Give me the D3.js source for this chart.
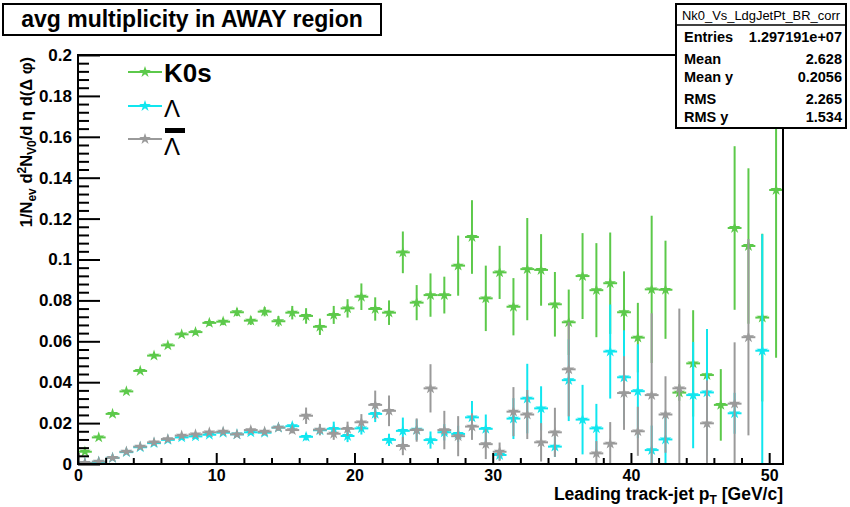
<!DOCTYPE html>
<html><head><meta charset="utf-8">
<script src="https://cdn.jsdelivr.net/npm/d3@7"></script>
<style>body{margin:0;background:#fff}svg{display:block}text{font-family:"Liberation Sans",Arial,Helvetica,sans-serif}</style>
</head><body>
<svg id="c" width="850" height="507"></svg>
<script>
// ---- data ----
const ptBins = [0.5,1.5,2.5,3.5,4.5,5.5,6.5,7.5,8.5,9.5,10.5,11.5,12.5,13.5,14.5,15.5,16.5,17.5,18.5,19.5,20.5,21.5,22.5,23.5,24.5,25.5,26.5,27.5,28.5,29.5,30.5,31.5,32.5,33.5,34.5,35.5,36.5,37.5,38.5,39.5,40.5,41.5,42.5,43.5,44.5,45.5,46.5,47.5,48.5,49.5,50.5];
const k0sValues = [0.006,0.013,0.0245,0.0355,0.0455,0.053,0.058,0.0634,0.0645,0.069,0.0696,0.0742,0.0701,0.0745,0.0698,0.074,0.0724,0.0671,0.0729,0.0761,0.0818,0.0758,0.074,0.1035,0.0789,0.0826,0.0826,0.097,0.111,0.081,0.0937,0.0769,0.0953,0.0949,0.0781,0.0693,0.0919,0.085,0.0884,0.0742,0.0618,0.0854,0.0852,0.0349,0.0492,0.0435,0.0289,0.1154,0.1066,0.0716,0.134];
const k0sErrors = [0.0005,0.0006,0.0007,0.0008,0.0009,0.001,0.0011,0.0012,0.0013,0.0015,0.0017,0.0019,0.0021,0.0023,0.0026,0.0033,0.0038,0.004,0.0044,0.0045,0.0065,0.0057,0.006,0.0102,0.0086,0.0106,0.009,0.0147,0.018,0.016,0.013,0.014,0.025,0.0175,0.0158,0.016,0.021,0.023,0.0248,0.02,0.017,0.036,0.024,0.004,0.026,0.0225,0.0175,0.04,0.038,0.041,0.082];
const lambdaValues = [0.0004,0.001,0.003,0.0058,0.0082,0.0102,0.0118,0.013,0.0135,0.0143,0.0153,0.0145,0.0155,0.0153,0.0178,0.0185,0.0133,0.0165,0.0172,0.0137,0.0174,0.0245,0.0118,0.0162,0.0168,0.0117,0.0155,0.0147,0.0228,0.0172,0.0044,0.0222,0.032,0.0272,0.0085,0.041,0.0217,0.0174,0.055,0.0424,0.0356,0.0068,0.012,null,0.0337,0.035,null,0.0248,null,0.0554,null];
const lambdaErrors = [0.0003,0.0003,0.0004,0.0005,0.0005,0.0006,0.0007,0.0008,0.0008,0.0009,0.001,0.0011,0.0012,0.0013,0.0015,0.0016,0.0018,0.002,0.0035,0.003,0.003,0.004,0.003,0.0065,0.005,0.0042,0.004,0.004,0.008,0.007,0.0025,0.01,0.017,0.0108,0.005,0.02,0.017,0.012,0.023,0.023,0.023,0.012,0.013,null,0.026,0.031,null,0.01,null,0.057,null];
const antiLambdaValues = [0.0005,0.0012,0.003,0.006,0.0085,0.0106,0.0122,0.0139,0.0145,0.0155,0.0158,0.0145,0.0166,0.0158,0.0178,0.0166,0.0236,0.0168,0.0148,0.0172,0.0204,0.0289,0.026,0.0088,0.0166,0.037,0.0166,0.0136,0.0183,0.0097,0.006,0.0256,0.0242,0.0106,0.0155,0.0463,null,0.0052,0.01,0.0347,0.016,0.0337,0.0242,0.037,null,0.0199,null,0.0295,0.062,null,null];
const antiLambdaErrors = [0.0003,0.0003,0.0004,0.0005,0.0005,0.0006,0.0007,0.0008,0.0008,0.0009,0.001,0.0011,0.0012,0.0013,0.0015,0.0016,0.004,0.0028,0.003,0.0035,0.004,0.007,0.0075,0.0045,0.0057,0.0118,0.0094,0.0098,0.0065,0.0073,0.0045,0.012,0.012,0.0094,0.012,0.023,null,0.006,0.0105,0.018,0.012,0.04,0.0187,0.039,null,0.021,null,0.03,0.048,null,null];
const xTicks = [0,10,20,30,40,50];
const xMinorTicks = [2,4,6,8,12,14,16,18,22,24,26,28,32,34,36,38,42,44,46,48];
const yTicks = [0,0.02,0.04,0.06,0.08,0.1,0.12,0.14,0.16,0.18,0.2];
const yTickLabels = ["0","0.02","0.04","0.06","0.08","0.1","0.12","0.14","0.16","0.18","0.2"];
const yMinorTicks = d3.range(0,0.2001,0.004).filter(v => Math.abs(v/0.02 - Math.round(v/0.02)) > 0.01);
const statLabels = ["Entries","Mean","Mean y","RMS","RMS y"];
const statValues = ["1.297191e+07","2.628","0.2056","2.265","1.534"];

const series = [
  {name:"K0s", values:k0sValues, errors:k0sErrors, color:"#5cc94a"},
  {name:"Lambda", values:lambdaValues, errors:lambdaErrors, color:"#10e6ef"},
  {name:"AntiLambda", values:antiLambdaValues, errors:antiLambdaErrors, color:"#9a9a9a"}
];

// ---- layout ----
const svg = d3.select("#c");
const L = 78, R = 783, T = 55, B = 464;
const x = d3.scaleLinear().domain([0,51]).range([L,R]);
const y = d3.scaleLinear().domain([0,0.2]).range([B,T]);

svg.append("defs").append("clipPath").attr("id","plotclip")
  .append("rect").attr("x",L).attr("y",T).attr("width",R-L).attr("height",B-T);

// data
const plot = svg.append("g").attr("clip-path","url(#plotclip)");
const star = d3.symbol().type(d3.symbolStar).size(42);
series.forEach(s => {
  const pts = ptBins.map((c,i)=>({c, v:s.values[i], e:s.errors[i]})).filter(d => d.v !== null);
  const g = plot.append("g");
  g.selectAll("line.v").data(pts).join("line").attr("class","v")
    .attr("x1",d=>x(d.c)).attr("x2",d=>x(d.c))
    .attr("y1",d=>y(d.v - d.e)).attr("y2",d=>y(d.v + d.e))
    .attr("stroke",s.color).attr("stroke-width",2);
  g.selectAll("line.h").data(pts).join("line").attr("class","h")
    .attr("x1",d=>x(d.c-0.5)).attr("x2",d=>x(d.c+0.5))
    .attr("y1",d=>y(d.v)).attr("y2",d=>y(d.v))
    .attr("stroke",s.color).attr("stroke-width",2);
  g.selectAll("path").data(pts).join("path")
    .attr("d",star).attr("transform",d=>`translate(${x(d.c)},${y(d.v)})`)
    .attr("fill",s.color);
});

// frame
svg.append("rect").attr("x",L).attr("y",T).attr("width",R-L).attr("height",B-T)
  .attr("fill","none").attr("stroke","#000").attr("stroke-width",2);

// y axis
const yAx = svg.append("g").attr("transform",`translate(${L},0)`)
  .call(d3.axisLeft(y).tickValues(yTicks).tickSize(-22).tickSizeOuter(0).tickPadding(6)
    .tickFormat((d,i)=>yTickLabels[i]));
const yMin = svg.append("g").attr("transform",`translate(${L},0)`)
  .call(d3.axisLeft(y).tickValues(yMinorTicks).tickSize(-11).tickSizeOuter(0).tickFormat(""));
// x axis
const xAx = svg.append("g").attr("transform",`translate(0,${B})`)
  .call(d3.axisBottom(x).tickValues(xTicks).tickSize(-11).tickSizeOuter(0).tickPadding(6).tickFormat(d3.format("d")));
const xMin = svg.append("g").attr("transform",`translate(0,${B})`)
  .call(d3.axisBottom(x).tickValues(xMinorTicks).tickSize(-6).tickSizeOuter(0).tickFormat(""));
[yAx,yMin,xAx,xMin].forEach(g=>{
  g.select(".domain").remove();
  g.selectAll("line").attr("stroke","#000").attr("stroke-width",2);
  g.selectAll("text").attr("font-size",17).attr("font-weight","bold").attr("fill","#000")
    .attr("font-family",'"Liberation Sans",Arial,sans-serif');
});
xAx.selectAll("text").attr("font-size",16);

// axis titles
const xt = svg.append("text").attr("x",R).attr("y",500).attr("text-anchor","end")
  .attr("font-size",17.5).attr("font-weight","bold");
xt.append("tspan").text("Leading track-jet p");
xt.append("tspan").attr("font-size",12).attr("dy",4).text("T");
xt.append("tspan").attr("dy",-4).text(" [GeV/c]");

const yt = svg.append("text").attr("transform","translate(32,57) rotate(-90)")
  .attr("text-anchor","end").attr("font-size",16.5).attr("font-weight","bold");
yt.append("tspan").text("1/N");
yt.append("tspan").attr("font-size",12).attr("dy",4).text("ev");
yt.append("tspan").attr("dy",-4).text(" d");
yt.append("tspan").attr("font-size",12).attr("dy",-6).text("2");
yt.append("tspan").attr("dy",6).text("N");
yt.append("tspan").attr("font-size",12).attr("dy",4).text("V0");
yt.append("tspan").attr("dy",-4).text("/d \u03B7 d(\u0394 \u03C6)");

// legend
const legend = [
  {label:"K0s", color:series[0].color, y:72},
  {label:"\u039B", color:series[1].color, y:106},
  {label:"\u039B", color:series[2].color, y:139}
];
legend.forEach((d,i)=>{
  svg.append("line").attr("x1",128).attr("x2",162).attr("y1",d.y).attr("y2",d.y)
    .attr("stroke",d.color).attr("stroke-width",2);
  svg.append("path").attr("d",star).attr("transform",`translate(145,${d.y})`).attr("fill",d.color);
});
svg.append("text").attr("x",164).attr("y",82).attr("font-size",26).attr("font-weight","bold").text(legend[0].label);
svg.append("text").attr("x",164).attr("y",117).attr("font-size",24)
  .attr("font-family",'"DejaVu Serif","Liberation Serif",serif').text(legend[1].label);
svg.append("text").attr("x",164).attr("y",155).attr("font-size",24)
  .attr("font-family",'"DejaVu Serif","Liberation Serif",serif').text(legend[2].label);
svg.append("rect").attr("x",165).attr("y",128).attr("width",20).attr("height",5).attr("fill","#000");

// title box
svg.append("rect").attr("x",3).attr("y",4).attr("width",378).attr("height",31)
  .attr("fill","#fff").attr("stroke","#000").attr("stroke-width",2);
svg.append("text").attr("x",192).attr("y",27).attr("text-anchor","middle")
  .attr("font-size",23).attr("font-weight","bold").text("avg multiplicity in AWAY region");

// stats box
svg.append("rect").attr("x",676).attr("y",4).attr("width",170).attr("height",124)
  .attr("fill","#fff").attr("stroke","#000").attr("stroke-width",2);
svg.append("line").attr("x1",676).attr("x2",846).attr("y1",25).attr("y2",25)
  .attr("stroke","#000").attr("stroke-width",1.5);
svg.append("text").attr("x",761).attr("y",20).attr("text-anchor","middle")
  .attr("font-size",13).attr("textLength",158).attr("lengthAdjust","spacingAndGlyphs")
  .text("Nk0_Vs_LdgJetPt_BR_corr");
const rowY = [42,64,82,104,122];
statLabels.forEach((l,i)=>{
  svg.append("text").attr("x",684).attr("y",rowY[i]).attr("font-size",14.5).attr("font-weight","bold").text(l);
  svg.append("text").attr("x",842).attr("y",rowY[i]).attr("text-anchor","end")
    .attr("font-size",14.5).attr("font-weight","bold").text(statValues[i]);
});
</script>
</body></html>
